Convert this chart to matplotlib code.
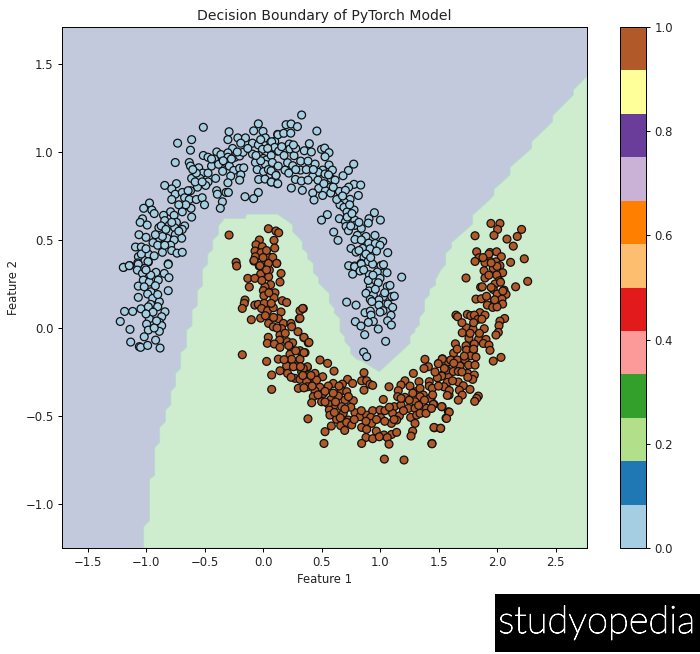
# decision boundary of a two moons classifier
import numpy as np
import matplotlib
matplotlib.use('Agg')
import matplotlib.pyplot as plt
import matplotlib.patheffects as pe
from matplotlib.patches import Rectangle

# upper moon, class 0
moon0 = [
    (-0.51,1.14),(-0.73,1.05),(-0.61,1.07),(-0.62,1.01),(-0.75,0.94),(-0.63,0.94),(-0.62,0.92),(-0.55,0.91),
    (-0.515,0.88),(-0.61,0.85),(-0.54,0.85),(-0.47,0.83),(-0.49,0.81),(-0.56,0.80),(-0.62,0.78),(-0.84,0.81),
    (-0.74,0.82),(-0.78,0.79),(-0.75,0.76),(-0.69,0.77),(-0.67,0.74),(-0.78,0.73),(-0.63,0.73),(-0.57,0.73),
    (-0.52,0.74),(-0.50,0.70),(-0.68,0.69),(-0.615,0.68),(-0.97,0.71),(-1.02,0.68),(-0.95,0.67),(-0.93,0.65),
    (-0.79,0.66),(-0.69,0.66),(-0.85,0.64),(-0.76,0.64),(-0.61,0.63),(-1.03,0.62),(-1.05,0.60),(-0.99,0.585),
    (-0.84,0.61),(-0.74,0.60),(-0.80,0.585),(-0.67,0.58),(-0.89,0.57),(-0.755,0.57),(-0.69,0.56),(-1.06,0.53),
    (-1.0,0.515),(-0.885,0.51),(-0.82,0.51),(-0.75,0.53),(-0.695,0.51),(-0.76,0.50),(-0.94,0.485),(-1.09,0.46),
    (-1.04,0.46),(-0.79,0.47),(-0.86,0.43),(-0.78,0.44),(-0.735,0.425),(-0.69,0.43),(-1.065,0.405),(-0.98,0.42),
    (-0.93,0.41),(-0.98,0.375),(-1.19,0.345),(-1.14,0.355),(-1.07,0.37),(-0.81,0.365),(-1.01,0.34),
    (-0.29,1.115),(-0.30,1.07),(-0.215,1.08),(-0.15,1.08),(-0.19,1.05),(-0.09,1.05),(-0.04,1.16),(-0.08,1.12),
    (0.0,1.117),(0.02,1.08),(0.125,1.10),(-0.04,1.04),(0.066,1.055),(0.10,1.06),(-0.26,1.02),(-0.005,1.015),
    (0.12,1.005),(-0.51,0.98),(-0.47,0.97),(-0.395,1.0),(-0.415,0.96),(-0.36,0.985),(-0.30,0.995),(-0.30,0.97),
    (-0.24,0.97),(-0.2,0.977),(-0.17,0.998),(-0.09,0.988),(-0.037,0.98),(0.003,0.963),(0.03,0.955),(-0.065,0.94),
    (0.02,0.93),(-0.44,0.92),(-0.38,0.93),(-0.32,0.94),(-0.345,0.89),(-0.288,0.92),(-0.25,0.895),(-0.2,0.907),
    (-0.165,0.91),(-0.05,0.90),(0.005,0.888),(0.046,0.90),(0.11,0.87),(-0.276,0.863),(-0.19,0.87),(-0.405,0.85),
    (-0.2,0.84),(-0.037,0.844),(0.017,0.846),(0.07,0.83),(0.12,0.82),(-0.30,0.825),(-0.396,0.78),(-0.39,0.76),
    (-0.316,0.77),(-0.296,0.77),(-0.04,0.77),(-0.154,0.746),(-0.08,0.735),(-0.347,0.717),(-0.365,0.68),
    (0.33,1.21),(0.197,1.155),(0.24,1.159),(0.294,1.144),(0.46,1.119),(0.128,1.098),(0.177,1.106),(0.237,1.107),
    (0.074,1.058),(0.396,1.047),(0.225,1.045),(0.10,1.026),(0.23,1.017),(0.134,1.005),(0.353,1.007),(0.413,1.0),
    (0.50,1.015),(0.527,1.022),(0.564,0.996),(0.53,0.973),(0.265,0.979),(0.322,0.948),(0.385,0.948),(0.21,0.939),
    (0.254,0.922),(0.445,0.931),(0.564,0.926),(0.775,0.931),(0.32,0.897),(0.188,0.897),(0.069,0.893),(0.111,0.867),
    (0.51,0.897),(0.593,0.897),(0.73,0.895),(0.473,0.884),(0.53,0.875),(0.4245,0.861),(0.684,0.865),(0.581,0.85),
    (0.277,0.844),(0.328,0.835),(0.385,0.84),(0.071,0.829),(0.126,0.82),(0.616,0.84),(0.778,0.816),(0.835,0.812),
    (0.242,0.795),(0.476,0.793),(0.576,0.80),(0.732,0.80),(0.336,0.782),(0.425,0.767),(0.533,0.78),(0.579,0.767),
    (0.51,0.753),(0.653,0.776),(0.704,0.782),(0.815,0.753),(0.436,0.727),(0.744,0.731),(0.695,0.715),(0.658,0.70),
    (0.692,0.685),(0.778,0.67),(0.718,0.659),(0.952,0.655),(0.55,0.644),(0.50,0.613),(0.653,0.621),(0.784,0.613),
    (0.906,0.621),(1.003,0.613),(0.704,0.604),(0.90,0.596),(0.786,0.583),(0.71,0.577),(0.84,0.566),(0.604,0.545),
    (0.73,0.553),(0.806,0.526),(0.88,0.52),(0.957,0.526),(0.641,0.498),(0.786,0.503),(0.903,0.482),(0.96,0.48),
    (1.023,0.492),(0.752,0.452),(0.852,0.452),(0.915,0.45),(1.0,0.47),(0.97,0.437),(0.795,0.431),(1.066,0.428),
    (0.863,0.401),(0.732,0.354),(0.784,0.352),(0.838,0.367),(0.898,0.378),(0.937,0.363),(1.009,0.354),
    (0.783,0.348),(0.84,0.363),(0.829,0.324),(0.766,0.306),(1.008,0.354),(0.909,0.303),(0.977,0.318),(1.06,0.314),
    (1.185,0.289),(1.0,0.282),(0.985,0.257),(0.917,0.238),(1.062,0.236),(1.085,0.242),(0.906,0.21),(0.88,0.197),
    (0.943,0.187),(1.028,0.178),(1.10,0.178),(1.122,0.181),(0.917,0.162),(0.715,0.147),(0.795,0.13),(0.991,0.159),
    (0.991,0.13),(1.068,0.136),(1.108,0.117),(0.872,0.087),(0.917,0.096),(1.025,0.098),(0.923,0.073),(1.094,0.072),
    (1.065,0.041),(0.789,0.036),(0.943,0.037),(0.90,0.032),(0.837,0.011),(1.097,0.017),(0.985,-0.006),(0.869,-0.038),
    (1.048,-0.076),(0.86,-0.137),(0.886,-0.163),
    (-1.194,0.344),(-1.143,0.354),(-1.066,0.363),(-0.983,0.377),(-0.81,0.361),(-1.074,0.329),(-1.03,0.31),(-1.01,0.339),
    (-0.915,0.316),(-0.844,0.31),(-0.804,0.286),(-1.023,0.272),(-0.972,0.261),(-0.895,0.272),(-1.066,0.238),(-1.015,0.234),
    (-0.81,0.212),(-0.958,0.206),(-0.986,0.193),(-1.066,0.174),(-0.943,0.168),(-0.886,0.149),(-0.96,0.134),(-0.9,0.121),
    (-1.043,0.109),(-1.183,0.094),(-1.114,0.094),(-0.838,0.092),(-0.966,0.083),(-0.866,0.064),(-0.972,0.053),(-1.22,0.037),
    (-0.995,0.022),(-0.886,0.032),(-0.866,0.013),(-1.137,-0.008),(-0.98,-0.012),(-0.886,-0.019),(-1.015,-0.05),(-0.918,-0.069),
    (-1.131,-0.08),(-1.057,-0.106),(-1.046,-0.11),(-0.986,-0.099),(-0.88,-0.114),
    # crowded spots of the arc
    (-0.87,0.58),(-0.86,0.52),(-0.83,0.56),(-0.78,0.60),(-0.72,0.55),(-0.9,0.47),(-0.84,0.47),(-0.92,0.53),
    (-0.66,0.70),(-0.72,0.70),(-0.64,0.78),(-0.58,0.83),(-0.52,0.83),(-0.57,0.88),(-0.60,0.90),(-0.47,0.88),
    (-0.44,0.96),(-0.34,0.95),(-0.27,0.96),(-0.22,1.0),(-0.13,1.02),(-0.02,0.95),(-0.06,0.98),(-0.02,1.07),
    (0.04,1.02),(0.07,0.98),(0.16,1.03),(0.18,0.98),(0.28,1.02),(0.26,1.04),(0.08,0.94),(0.13,0.92),
    (0.22,0.88),(0.28,0.90),(0.37,0.90),(0.43,0.90),(0.47,0.84),(0.52,0.82),(0.56,0.87),(0.60,0.80),
    (0.63,0.73),(0.68,0.75),(0.74,0.70),(0.72,0.63),(0.76,0.65),(0.75,0.58),(0.82,0.60),(0.84,0.50),
    (0.82,0.44),(0.88,0.42),(0.92,0.40),(0.86,0.33),(0.90,0.27),(0.96,0.22),(0.93,0.15),(1.0,0.09),
    (1.04,0.20),(0.94,0.30),(1.03,0.36),(-0.96,0.30),(-0.92,0.24),(-0.98,0.12),(-0.94,0.09),(-0.91,0.04),
    (-0.93,0.0),(-1.0,0.33),(-1.04,0.42),(-1.0,0.45),(-1.0,0.08),(-0.9,0.19),
]

# lower moon, class 1
moon1 = [
    (-0.23,0.373),(-0.225,0.352),(-0.077,0.38),(-0.032,0.352),(0.042,0.367),(0.117,0.367),(0.054,0.329),(-0.02,0.306),
    (0.154,0.31),(-0.13,0.282),(-0.07,0.282),(0.048,0.291),(0.145,0.261),(-0.117,0.233),(0.065,0.246),(0.017,0.234),
    (0.003,0.212),(0.102,0.2),(0.008,0.183),(0.094,0.172),(-0.154,0.159),(-0.16,0.14),(-0.177,0.111),(-0.07,0.13),
    (-0.04,0.134),(0.011,0.14),(0.165,0.155),(0.202,0.145),(-0.012,0.111),(0.04,0.098),(0.088,0.115),(0.344,0.111),
    (0.316,0.098),(0.154,0.091),(-0.10,0.047),(-0.02,0.056),(0.131,0.053),(0.31,0.053),(0.048,0.026),(0.174,0.026),
    (0.239,0.026),(0.088,0.007),(0.159,-0.004),(0.245,0.007),(0.299,-0.021),(0.045,-0.053),(0.145,-0.04),(0.35,-0.055),
    (0.037,-0.087),(0.142,-0.069),(0.208,-0.078),(0.253,-0.084),(0.387,-0.084),(0.097,-0.091),(0.145,-0.11),(0.245,-0.125),
    (0.316,-0.129),(0.359,-0.14),(-0.177,-0.152),(0.23,-0.15),(0.131,-0.177),(0.031,-0.19),(0.245,-0.178),(0.316,-0.178),
    (0.202,-0.216),(0.288,-0.216),(0.379,-0.224),(0.145,-0.243),(0.21,-0.258),(0.33,-0.249),(0.074,-0.267),(0.273,-0.286),
    (0.316,-0.292),(0.387,-0.292),(0.074,-0.349),(0.302,-0.343),(0.387,-0.33),
    (-0.29,0.528),(0.046,0.564),(0.11,0.551),(0.134,0.541),(-0.031,0.5),(0.094,0.498),(-0.06,0.473),(-0.006,0.462),
    (0.10,0.454),(-0.068,0.437),(-0.017,0.428),(-0.065,0.405),(0.046,0.405),(0.083,0.401),(-0.077,0.384),(-0.026,0.354),
    (0.046,0.367),(0.117,0.367),
    (0.339,0.111),(0.316,0.055),(0.35,-0.053),(0.393,-0.082),(0.35,-0.14),(0.487,-0.182),(0.552,-0.201),(0.379,-0.22),
    (0.344,-0.23),(0.607,-0.245),(0.444,-0.258),(0.367,-0.277),(0.51,-0.277),(0.458,-0.296),(0.373,-0.305),(0.723,-0.292),
    (0.863,-0.254),(0.843,-0.30),(0.886,-0.30),(0.678,-0.319),(0.6,-0.315),(0.558,-0.33),(0.766,-0.315),(0.487,-0.337),
    (0.379,-0.334),(0.914,-0.32),(0.937,-0.326),(0.863,-0.353),(1.077,-0.334),(1.285,-0.258),(1.384,-0.178),(1.413,-0.22),
    (1.376,-0.23),(1.501,-0.201),(1.533,-0.175),(1.584,-0.192),(1.57,-0.239),(1.535,-0.267),(1.498,-0.281),(1.584,-0.277),
    (1.547,-0.334),(1.59,-0.381),(1.333,-0.305),(1.421,-0.305),(1.213,-0.30),(1.256,-0.33),(1.179,-0.324),(1.156,-0.356),
    (1.305,-0.362),(1.421,-0.33),(1.447,-0.343),(1.342,-0.343),(0.444,-0.358),(0.515,-0.372),(0.672,-0.356),(0.715,-0.362),
    (0.43,-0.39),(0.416,-0.425),(0.501,-0.419),(0.581,-0.406),(0.644,-0.387),(0.7,-0.41),(0.772,-0.413),(0.61,-0.438),
    (0.672,-0.447),(0.558,-0.432),(1.028,-0.406),(1.151,-0.39),(1.213,-0.394),(1.37,-0.381),(1.436,-0.40),(1.342,-0.39),
    (1.299,-0.419),(1.122,-0.447),(1.179,-0.438),(1.242,-0.457),(1.299,-0.457),(1.398,-0.457),(1.461,-0.434),(1.53,-0.447),
    (1.584,-0.476),(1.564,-0.512),(0.567,-0.466),(0.572,-0.495),(0.629,-0.519),(0.686,-0.485),(0.786,-0.481),(0.729,-0.523),
    (0.829,-0.504),(0.886,-0.495),(0.937,-0.47),(1.0,-0.466),(1.042,-0.47),(1.108,-0.485),(1.165,-0.5),(1.262,-0.508),
    (1.313,-0.495),(1.342,-0.485),(1.393,-0.485),(1.005,-0.51),(0.92,-0.508),(0.929,-0.542),(1.097,-0.542),(1.142,-0.523),
    (1.299,-0.542),(0.384,-0.516),(0.584,-0.557),(0.664,-0.555),(0.715,-0.536),(0.758,-0.551),(0.843,-0.565),(0.886,-0.576),
    (0.53,-0.589),(0.698,-0.582),(0.968,-0.586),(1.034,-0.608),(1.099,-0.605),(1.142,-0.593),(1.279,-0.586),(1.265,-0.614),
    (1.464,-0.567),(1.518,-0.57),(0.88,-0.622),(0.937,-0.629),(0.994,-0.618),(1.062,-0.623),(0.521,-0.656),(0.843,-0.656),
    (1.077,-0.66),(1.444,-0.656),(1.037,-0.745),(1.205,-0.75),
    (1.948,0.594),(2.025,0.594),(2.005,0.56),(2.21,0.56),(1.812,0.524),(1.974,0.526),(2.173,0.52),(2.085,0.505),
    (2.139,0.465),(1.826,0.433),(1.94,0.429),(1.997,0.433),(1.846,0.399),(2.037,0.405),(1.812,0.378),(1.926,0.39),
    (1.897,0.371),(1.991,0.376),(2.233,0.393),(2.116,0.373),(2.025,0.354),(1.968,0.339),(1.889,0.325),(2.048,0.314),
    (1.997,0.301),(1.735,0.284),(1.897,0.284),(2.02,0.268),(2.262,0.265),(1.983,0.25),(1.86,0.232),(1.874,0.234),
    (2.159,0.234),(1.968,0.219),(2.06,0.215),(2.002,0.193),(2.077,0.191),(1.82,0.164),(1.866,0.166),(2.042,0.164),
    (1.977,0.155),(2.048,0.136),(1.917,0.13),(1.963,0.117),(1.854,0.087),(1.897,0.073),(1.649,0.073),(1.663,0.064),
    (1.746,0.077),(1.775,0.07),(1.806,0.073),(1.837,0.049),(2.065,0.054),(2.025,0.039),(2.017,0.013),(1.74,0.001),
    (1.795,-0.006),(1.891,-0.004),(1.703,-0.027),(2.011,-0.025),(1.991,-0.04),(1.76,-0.059),(1.843,-0.063),(1.906,-0.065),
    (1.644,-0.09),(1.806,-0.091),(1.883,-0.088),(1.931,-0.097),(1.735,-0.101),(1.74,-0.125),(1.797,-0.127),(1.94,-0.127),
    (1.629,-0.143),(1.775,-0.158),(1.82,-0.165),(2.034,-0.167),(1.968,-0.188),(1.604,-0.182),(1.661,-0.182),(1.726,-0.18),
    (1.532,-0.177),(1.498,-0.203),(1.757,-0.211),(1.812,-0.211),(1.683,-0.216),(1.569,-0.239),(1.626,-0.247),(1.669,-0.247),
    (1.749,-0.258),(1.806,-0.267),(1.527,-0.273),(1.49,-0.283),(1.575,-0.309),(1.792,-0.292),(1.669,-0.307),(1.712,-0.328),
    (1.547,-0.334),(1.769,-0.349),(1.592,-0.355),(1.678,-0.353),(1.703,-0.381),(1.575,-0.383),(1.84,-0.387),(1.826,-0.4),
    (1.809,-0.417),(1.669,-0.41),(1.427,-0.40),(1.455,-0.434),(1.527,-0.447),(1.592,-0.478),(1.569,-0.514),(1.461,-0.565),
    (1.518,-0.57),(1.444,-0.658),(1.44,-0.457),
    # crowded spots of the arc
    (0.03,0.44),(0.0,0.40),(0.03,0.33),(-0.01,0.27),(0.05,0.20),(0.07,0.14),(0.02,0.07),(0.09,0.06),
    (0.12,0.0),(0.19,-0.03),(0.22,-0.1),(0.28,-0.13),(0.18,-0.18),(0.26,-0.22),(0.32,-0.22),(0.24,-0.28),
    (0.34,-0.27),(0.41,-0.27),(0.35,-0.34),(0.42,-0.33),(0.47,-0.38),(0.53,-0.36),(0.53,-0.42),(0.60,-0.37),
    (0.62,-0.42),(0.65,-0.33),(0.73,-0.39),(0.75,-0.45),(0.66,-0.51),(0.70,-0.46),(0.61,-0.48),(0.78,-0.52),
    (0.84,-0.47),(0.88,-0.53),(0.97,-0.52),(1.04,-0.53),(1.08,-0.45),(1.12,-0.52),(1.2,-0.47),(1.18,-0.40),
    (1.25,-0.41),(1.28,-0.37),(1.33,-0.44),(1.38,-0.41),(1.45,-0.38),(1.50,-0.33),(1.47,-0.25),(1.55,-0.23),
    (1.62,-0.30),(1.63,-0.2),(1.7,-0.25),(1.66,-0.12),(1.72,-0.16),(1.75,-0.28),(1.77,-0.03),(1.70,0.03),
    (1.80,0.03),(1.85,-0.03),(1.8,-0.12),(1.87,0.05),(1.91,0.18),(1.95,0.23),(1.93,0.30),(2.0,0.35),
    (1.95,0.37),(2.03,0.26),(2.05,0.21),(2.0,0.12),(1.93,0.42),(1.88,0.40),(1.98,0.16),
]

# where the model switches class, left to right
boundaryX = [-1.02,-1.02,-0.97,-0.97,-0.926,-0.926,-0.883,-0.883,-0.834,-0.834,-0.788,-0.788,-0.747,-0.747,
             -0.704,-0.704,-0.653,-0.653,-0.607,-0.607,-0.562,-0.562,-0.519,-0.519,-0.473,-0.473,-0.43,-0.43,
             -0.382,-0.382,-0.339,-0.339,-0.154,-0.14,0.123,0.2,0.254,0.254,0.294,0.336,0.336,0.382,0.382,0.43,
             0.43,0.476,0.476,0.521,0.567,0.567,0.61,0.61,0.658,0.658,0.7,0.7,0.749,0.749,0.80,0.85,0.994,
             1.256,1.256,1.299,1.299,1.336,1.336,1.379,1.379,1.421,1.421,1.475,1.475,1.518,1.561,1.561,1.612,
             1.612,1.792,1.792,1.934,1.974,1.974,2.111,2.111,2.296,2.296,2.476,2.476,2.652,2.652,2.769]
boundaryY = [-1.25,-1.129,-1.095,-0.86,-0.837,-0.68,-0.65,-0.564,-0.532,-0.466,-0.437,-0.36,-0.33,-0.258,
             -0.23,-0.14,-0.11,-0.012,0.013,0.102,0.127,0.212,0.238,0.333,0.363,0.42,0.445,0.50,
             0.53,0.58,0.613,0.623,0.623,0.647,0.647,0.613,0.585,0.547,0.522,0.49,0.452,0.424,0.395,0.367,
             0.314,0.288,0.255,0.225,0.197,0.144,0.111,0.085,0.055,-0.021,-0.05,-0.078,-0.112,-0.144,-0.177,-0.19,-0.248,
             -0.087,-0.046,-0.021,-0.005,0.017,0.06,0.092,0.159,0.187,0.22,0.244,0.276,0.329,0.361,0.424,0.456,
             0.486,0.591,0.642,0.727,0.756,0.788,0.87,0.913,1.021,1.059,1.173,1.207,1.324,1.352,1.43]

xLimits = (-1.718, 2.769)
yLimits = (-1.25, 1.71)
xTicks = [-1.5, -1.0, -0.5, 0.0, 0.5, 1.0, 1.5, 2.0, 2.5]
yTicks = [-1.0, -0.5, 0.0, 0.5, 1.0, 1.5]

if __name__ == '__main__':
    # the reference is a shrunken screenshot, so everything is about 0.84 of the defaults
    plt.rcParams['font.size'] = 8.4
    plt.rcParams['axes.titlesize'] = 10.1
    plt.rcParams['axes.linewidth'] = 0.7
    plt.rcParams['xtick.major.size'] = 3
    plt.rcParams['ytick.major.size'] = 3
    plt.rcParams['xtick.major.width'] = 0.7
    plt.rcParams['ytick.major.width'] = 0.7
    plt.rcParams['xtick.major.pad'] = 3
    plt.rcParams['ytick.major.pad'] = 3
    plt.rcParams['text.color'] = '#222222'
    plt.rcParams['axes.labelcolor'] = '#222222'
    plt.rcParams['xtick.labelcolor'] = '#222222'
    plt.rcParams['ytick.labelcolor'] = '#222222'

    W, H = 700, 654
    fig = plt.figure(figsize=(W / 100, H / 100), dpi=100)
    ax = fig.add_axes([62 / W, 1 - 548 / H, 525 / W, 521 / H])
    ax.set_facecolor('#c2c9dd')

    # green region below the boundary
    ax.fill(boundaryX + [xLimits[1], boundaryX[0]], boundaryY + [yLimits[0], yLimits[0]],
            facecolor='#ceedce', edgecolor='#b4dcc8', linewidth=0.6, zorder=1)

    points = np.array(moon0 + moon1)
    labels = np.array([0] * len(moon0) + [1] * len(moon1))
    sc = ax.scatter(points[:, 0], points[:, 1], c=labels, cmap='Paired', edgecolors='#111111',
                    s=32, linewidths=0.9, zorder=2)

    ax.set_xlim(xLimits)
    ax.set_ylim(yLimits)
    ax.set_xticks(xTicks)
    ax.set_yticks(yTicks)
    ax.set_xlabel('Feature 1', labelpad=2.5)
    ax.set_ylabel('Feature 2')
    ax.set_title('Decision Boundary of PyTorch Model', pad=5)

    cax = fig.add_axes([620 / W, 1 - 548 / H, 26 / W, 521 / H])
    fig.colorbar(sc, cax=cax)

    # watermark, light weight thickened a little
    fig.add_artist(Rectangle((495 / W, 1 - 652 / H), 205 / W, 58 / H, transform=fig.transFigure,
                             facecolor='black', edgecolor='none'))
    wm = fig.text(597 / W, 1 - 623 / H, 'studyopedia', color='white', family='Lato', weight='light',
                  fontsize=27.5, ha='center', va='center')
    wm.set_path_effects([pe.withStroke(linewidth=0.7, foreground='white')])

    fig.savefig('out.png', dpi=100)
